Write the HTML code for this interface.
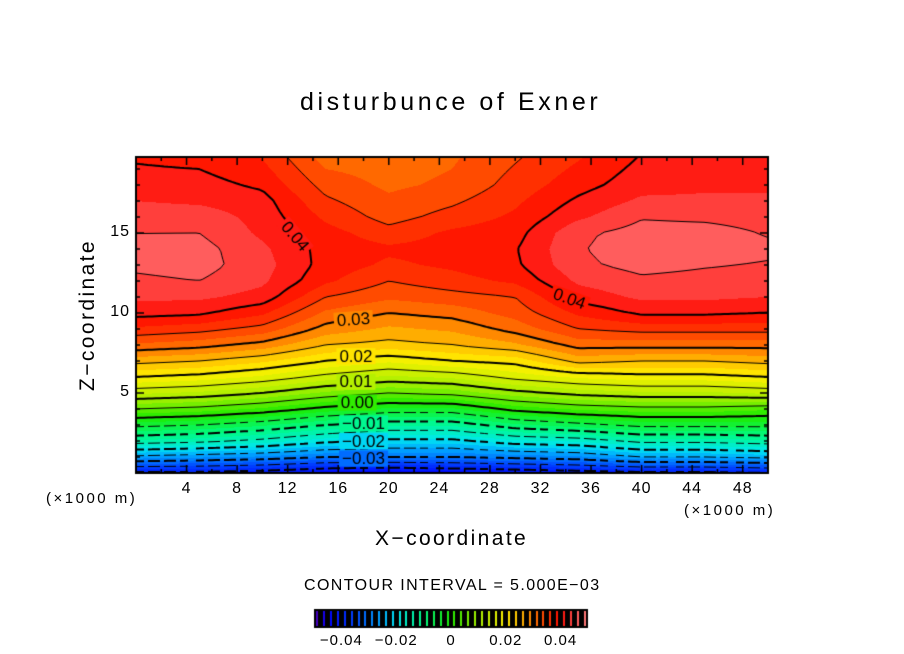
<!DOCTYPE html>
<html><head><meta charset="utf-8">
<style>
html,body{margin:0;padding:0;background:#fff;}
#wrap{position:relative;width:904px;height:654px;overflow:hidden;font-family:"Liberation Sans",sans-serif;}
.t{position:absolute;white-space:nowrap;color:#000;}
canvas{position:absolute;left:0;top:0;}
</style></head>
<body>
<div id="wrap">
<canvas id="cv" width="904" height="654"></canvas>
<div class="t" style="left:300px;top:88px;font-size:25px;letter-spacing:3.6px;">disturbunce of Exner</div>
<div class="t" style="left:375px;top:527px;font-size:21px;letter-spacing:2.4px;">X−coordinate</div>
<div class="t" style="left:-12px;top:303px;font-size:21px;letter-spacing:2.4px;transform:rotate(-90deg);transform-origin:center;width:200px;text-align:center;">Z−coordinate</div>
<div class="t" style="left:46px;top:490px;font-size:15px;letter-spacing:2.5px;">(×1000 m)</div>
<div class="t" style="left:684px;top:502px;font-size:15px;letter-spacing:2.5px;">(×1000 m)</div>
<div class="t" style="left:304px;top:577px;font-size:16px;letter-spacing:1.4px;">CONTOUR INTERVAL = 5.000E−03</div>
</div>
<script>
// ---- data ----
const xs = [0,5,10,15,20,25,30,35,40,45,50];
const zs = [0,1,2,3,4,5,6,7,8,9,10,11,12,13,14,15,16,17,18,20];
const col0  = [-0.041,-0.026,-0.013,-0.004,0.005,0.013,0.020,0.026,0.032,0.037,0.041,0.043,0.0445,0.0455,0.0455,0.045,0.044,0.0425,0.041,0.0395];
const col5  = [-0.041,-0.027,-0.014,-0.005,0.004,0.012,0.019,0.025,0.031,0.036,0.0405,0.043,0.045,0.046,0.046,0.045,0.044,0.042,0.041,0.039];
const col10 = [-0.042,-0.028,-0.016,-0.007,0.002,0.010,0.017,0.023,0.029,0.034,0.038,0.0415,0.043,0.0435,0.043,0.042,0.0415,0.041,0.0395,0.037];
const col15 = [-0.044,-0.030,-0.019,-0.010,-0.001,0.007,0.014,0.020,0.025,0.029,0.032,0.035,0.038,0.039,0.039,0.0385,0.037,0.0355,0.034,0.031];
const col20 = [-0.045,-0.030,-0.021,-0.012,-0.003,0.005,0.012,0.018,0.024,0.027,0.030,0.033,0.035,0.037,0.038,0.036,0.034,0.033,0.032,0.031];
const col25 = [-0.044,-0.030,-0.021,-0.012,-0.003,0.006,0.013,0.020,0.025,0.028,0.031,0.034,0.0365,0.038,0.0385,0.038,0.036,0.0345,0.033,0.032];
const col30 = [-0.043,-0.029,-0.018,-0.008,0.001,0.009,0.016,0.021,0.027,0.031,0.0335,0.035,0.038,0.0395,0.0398,0.039,0.038,0.037,0.036,0.0345];
const col35 = [-0.042,-0.028,-0.017,-0.006,0.003,0.011,0.018,0.026,0.031,0.035,0.038,0.041,0.043,0.0445,0.0448,0.0445,0.042,0.0405,0.039,0.037];
const col40 = [-0.041,-0.025,-0.014,-0.004,0.004,0.012,0.019,0.025,0.031,0.036,0.0405,0.043,0.0445,0.0458,0.0462,0.046,0.0448,0.043,0.0415,0.040];
const col45 = [-0.041,-0.025,-0.014,-0.004,0.004,0.012,0.019,0.025,0.031,0.036,0.0405,0.043,0.0442,0.0452,0.046,0.046,0.0445,0.043,0.042,0.041];
const col50 = [-0.040,-0.024,-0.013,-0.004,0.003,0.013,0.020,0.026,0.031,0.036,0.040,0.0425,0.044,0.0448,0.0455,0.0448,0.044,0.043,0.042,0.041];
const columns = [col0,col5,col10,col15,col20,col25,col30,col35,col40,col45,col50];
const xTicks = [4,8,12,16,20,24,28,32,36,40,44,48];
const zTicks = [5,10,15];
const cbTicks = [-0.04,-0.02,0,0.02,0.04];
const cbTickLabels = ["−0.04","−0.02","0","0.02","0.04"];
const contourLabels = [
  {v:0.04,x:12.6,z:14.8,rot:50,t:"0.04"},
  {v:0.04,x:34.3,z:10.9,rot:20,t:"0.04"},
  {v:0.03,x:17.2,z:9.6,rot:-4,t:"0.03"},
  {v:0.02,x:17.4,z:7.3,rot:0,t:"0.02"},
  {v:0.01,x:17.4,z:5.7,rot:0,t:"0.01"},
  {v:0.00,x:17.5,z:4.4,rot:0,t:"0.00"},
  {v:-0.01,x:18.0,z:3.1,rot:0,t:"−0.01"},
  {v:-0.02,x:18.0,z:2.0,rot:0,t:"−0.02"},
  {v:-0.03,x:18.0,z:0.9,rot:0,t:"−0.03"}
];
// ---- geometry ----
const PX0=136, PX1=768, PY0=157, PY1=473, ZMAX=19.75, XMAX=50;
function sx(x){return PX0+(PX1-PX0)*x/XMAX;}
function sz(z){return PY1-(PY1-PY0)*z/ZMAX;}
function idx(arr,v){let i=0;while(i<arr.length-2&&v>arr[i+1])i++;return i;}
function field(x,z){
  const i=idx(xs,x), j=idx(zs,z);
  const tx=Math.min(1,Math.max(0,(x-xs[i])/(xs[i+1]-xs[i])));
  const tz=Math.min(1,Math.max(0,(z-zs[j])/(zs[j+1]-zs[j])));
  const a=columns[i][j],b=columns[i+1][j],c=columns[i][j+1],d=columns[i+1][j+1];
  return (a*(1-tx)+b*tx)*(1-tz)+(c*(1-tx)+d*tx)*tz;
}
const cstops=[[-0.05,[90,0,170]],[-0.045,[0,0,255]],[-0.035,[0,70,255]],[-0.025,[0,170,255]],[-0.02,[0,230,240]],[-0.01,[0,250,130]],[0,[30,235,0]],[0.01,[170,240,0]],[0.02,[255,240,0]],[0.025,[255,190,0]],[0.03,[255,120,0]],[0.035,[255,60,0]],[0.04,[255,10,0]],[0.045,[255,80,80]],[0.05,[255,130,130]]];
function cmap(v){
  const q=(Math.floor(v/0.0025)+0.5)*0.0025;
  if(q<=cstops[0][0])return cstops[0][1];
  for(let k=0;k<cstops.length-1;k++){
    if(q<=cstops[k+1][0]){const t=(q-cstops[k][0])/(cstops[k+1][0]-cstops[k][0]);
      return cstops[k][1].map((c,m)=>Math.round(c+(cstops[k+1][1][m]-c)*t));}
  }
  return cstops[cstops.length-1][1];
}
const cv=document.getElementById('cv'),ctx=cv.getContext('2d');
const W=PX1-PX0,H=PY1-PY0;
const img=ctx.createImageData(W,H);
for(let py=0;py<H;py++){const z=ZMAX*(H-py-0.5)/H;
  for(let px=0;px<W;px++){const x=XMAX*(px+0.5)/W;const c=cmap(field(x,z));const o=(py*W+px)*4;
    img.data[o]=c[0];img.data[o+1]=c[1];img.data[o+2]=c[2];img.data[o+3]=255;}}
ctx.putImageData(img,PX0,PY0);
const NX=158,NZ=80;
const g=[];for(let j=0;j<=NZ;j++){g[j]=[];for(let i=0;i<=NX;i++)g[j][i]=field(XMAX*i/NX,ZMAX*j/NZ);}
ctx.save();ctx.beginPath();ctx.rect(PX0,PY0,W,H);ctx.clip();
for(let k=-9;k<=9;k++){
  const lv=k*0.005+1e-7;
  const bold=(k%2===0);
  ctx.strokeStyle='#000';ctx.lineWidth=bold?2:1;ctx.beginPath();
  for(let j=0;j<NZ;j++)for(let i=0;i<NX;i++){
    const p=[[i,j],[i+1,j],[i+1,j+1],[i,j+1]];
    const pts=[];
    for(let e=0;e<4;e++){const A=p[e],B=p[(e+1)%4];const va=g[A[1]][A[0]],vb=g[B[1]][B[0]];
      if((va<lv)!==(vb<lv)){const t=(lv-va)/(vb-va);pts.push([A[0]+(B[0]-A[0])*t,A[1]+(B[1]-A[1])*t]);}}
    for(let s=0;s+1<pts.length;s+=2){
      const x1=sx(XMAX*pts[s][0]/NX),y1=sz(ZMAX*pts[s][1]/NZ),x2=sx(XMAX*pts[s+1][0]/NX),y2=sz(ZMAX*pts[s+1][1]/NZ);
      if(k<0&&((x1+x2)/2%15)>9)continue;
      ctx.moveTo(x1,y1);ctx.lineTo(x2,y2);}
  }
  ctx.stroke();
}
ctx.font='17px "Liberation Sans", sans-serif';ctx.textAlign='center';ctx.textBaseline='middle';
contourLabels.forEach(L=>{
  const X=sx(L.x),Y=sz(L.z);const c=cmap(field(L.x,L.z));
  ctx.save();ctx.translate(X,Y);ctx.rotate(L.rot*Math.PI/180);
  const w=ctx.measureText(L.t).width+6;
  ctx.fillStyle='rgb('+c.join(',')+')';ctx.fillRect(-w/2,-8,w,16);
  ctx.fillStyle='#000';ctx.fillText(L.t,0,1);ctx.restore();
});
ctx.restore();
ctx.strokeStyle='#000';ctx.lineWidth=2;ctx.strokeRect(PX0,PY0,W,H);
ctx.lineWidth=1.5;ctx.beginPath();
for(let x=2;x<XMAX;x+=2){const L=(x%4===0)?8:4;ctx.moveTo(sx(x),PY1);ctx.lineTo(sx(x),PY1-L);ctx.moveTo(sx(x),PY0);ctx.lineTo(sx(x),PY0+L);}
for(let z=1;z<ZMAX;z+=1){const L=(z%5===0)?8:4;ctx.moveTo(PX0,sz(z));ctx.lineTo(PX0+L,sz(z));ctx.moveTo(PX1,sz(z));ctx.lineTo(PX1-L,sz(z));}
ctx.stroke();
const CB0=314,CB1=588,CBY=609,CBH=19;
function cbx(v){return CB0+(CB1-CB0)*(v+0.05)/0.1;}
ctx.fillStyle='#000';ctx.fillRect(CB0,CBY,CB1-CB0,CBH);
for(let v=-0.05+0.00125;v<0.05;v+=0.0025){const c=cmap(v);ctx.fillStyle='rgb('+c.join(',')+')';ctx.fillRect(Math.round(cbx(v))-1,CBY+2,2,CBH-4);}
const wrap=document.getElementById('wrap');
xTicks.forEach(x=>{const d=document.createElement('div');d.className='t';


d.style.cssText='left:'+(sx(x)-20)+'px;top:480px;width:40px;text-align:center;font-size:16px;letter-spacing:1px;';d.textContent=x;wrap.appendChild(d);});
zTicks.forEach(z=>{const d=document.createElement('div');d.className='t';


d.style.cssText='left:90px;top:'+(sz(z)-10)+'px;width:40px;text-align:right;font-size:16px;letter-spacing:1px;';d.textContent=z;wrap.appendChild(d);});
cbTicks.forEach((v,n)=>{const d=document.createElement('div');d.className='t';


d.style.cssText='left:'+(cbx(v)-30)+'px;top:632px;width:60px;text-align:center;font-size:15px;letter-spacing:1px;';d.textContent=cbTickLabels[n];wrap.appendChild(d);});
</script>
</body></html>
